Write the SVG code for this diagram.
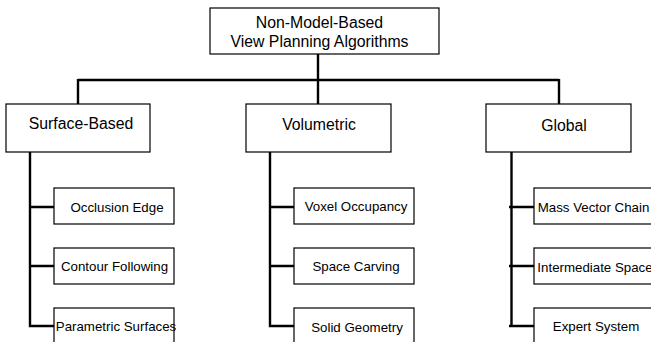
<svg xmlns="http://www.w3.org/2000/svg" width="651" height="342" viewBox="0 0 651 342">
<style>
.box{fill:#fff;stroke:#000;stroke-width:1.2}
.t{font-family:"Liberation Sans",Arial,sans-serif;fill:#000;text-anchor:middle}
.l{font-size:15.8px}
.s{font-size:13.3px}
.c{fill:none;stroke:#000;stroke-width:2.4}
</style>
<rect width="651" height="342" fill="#fff"/>
<g id="connectors">
<path class="c" d="M318 54V80M78 80H559M78 79V104M318 80V104M559 79V104"/>
<path class="c" d="M30 152V326H54M30 207H54M30 266H54"/>
<path class="c" d="M270 152V326H294M270 207H294M270 266H294"/>
<path class="c" d="M511.5 152V326M509 326H534M509 207H534M509 266H534"/>
</g>
<g id="root"><rect class="box" x="210" y="8" width="229" height="46"/><text class="t l" x="319.5" y="28">Non-Model-Based</text><text class="t l" x="319.5" y="46.5">View Planning Algorithms</text></g>
<g id="surface"><rect class="box" x="6" y="104" width="144" height="48"/><text class="t l" x="81" y="128.5">Surface-Based</text></g>
<g id="volumetric"><rect class="box" x="246" y="104" width="145" height="48"/><text class="t l" x="319" y="129.5">Volumetric</text></g>
<g id="global"><rect class="box" x="486" y="104" width="145" height="48"/><text class="t l" x="564" y="131">Global</text></g>
<g id="occlusion"><rect class="box" x="54" y="188" width="120" height="36"/><text class="t s" x="117" y="212">Occlusion Edge</text></g>
<g id="contour"><rect class="box" x="54" y="248" width="120" height="36"/><text class="t s" x="114.5" y="271">Contour Following</text></g>
<g id="parametric"><rect class="box" x="54" y="308" width="120" height="36"/><text class="t s" x="116" y="331">Parametric Surfaces</text></g>
<g id="voxel"><rect class="box" x="294" y="188" width="120" height="36"/><text class="t s" x="356" y="211">Voxel Occupancy</text></g>
<g id="carving"><rect class="box" x="294" y="248" width="120" height="36"/><text class="t s" x="356" y="271">Space Carving</text></g>
<g id="solid"><rect class="box" x="294" y="308" width="120" height="36"/><text class="t s" x="357" y="331.5">Solid Geometry</text></g>
<g id="mass"><rect class="box" x="534" y="188" width="120" height="36"/><text class="t s" x="593.5" y="212">Mass Vector Chain</text></g>
<g id="intermediate"><rect class="box" x="534" y="248" width="120" height="36"/><text class="t s" x="595" y="271.5">Intermediate Space</text></g>
<g id="expert"><rect class="box" x="534" y="308" width="120" height="36"/><text class="t s" x="596" y="331">Expert System</text></g>
</svg>
